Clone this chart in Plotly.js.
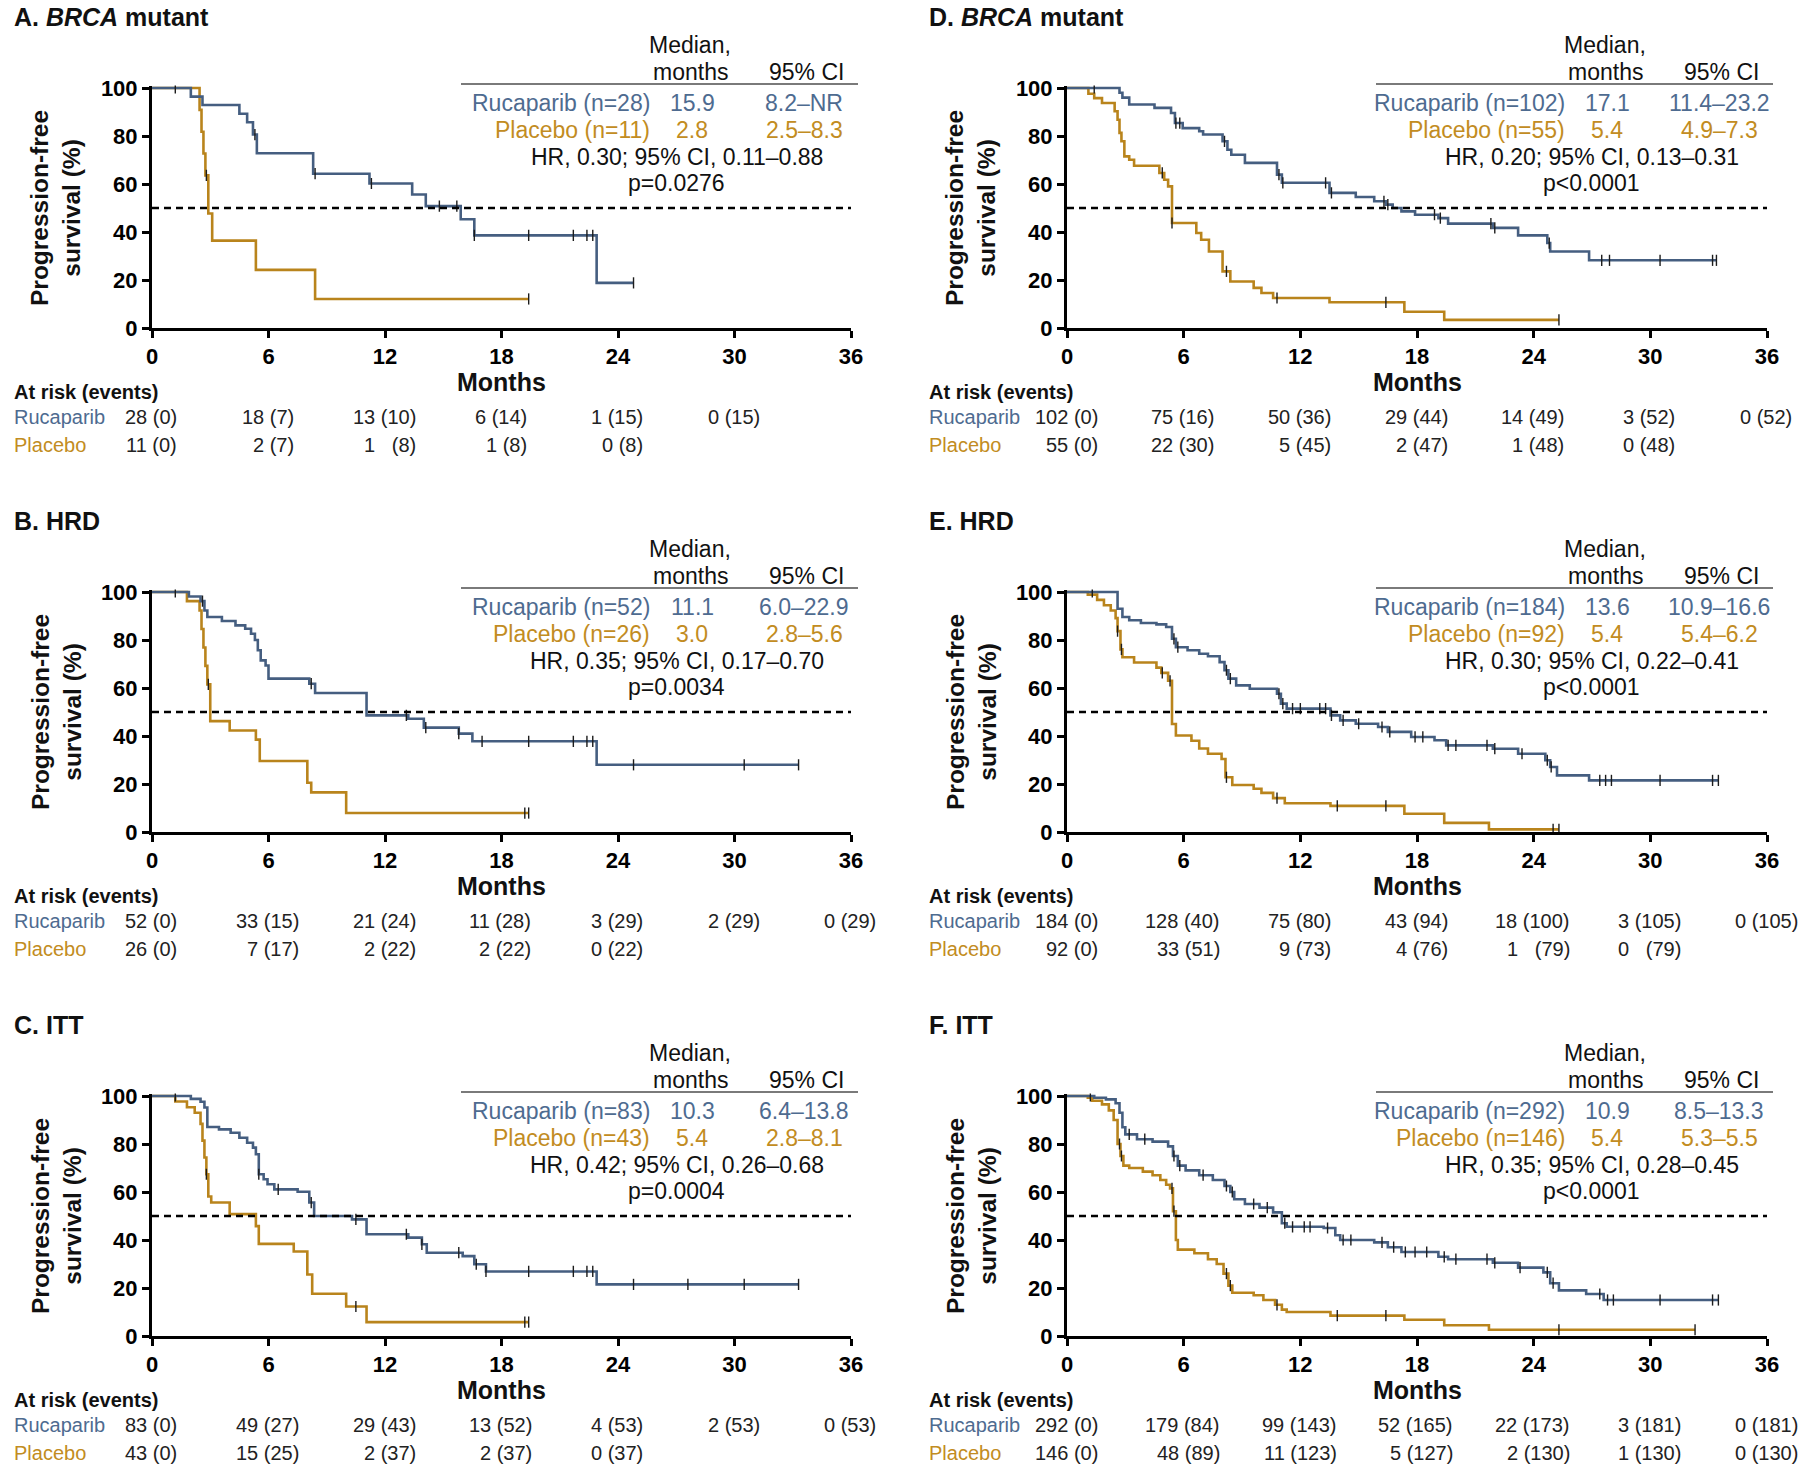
<!DOCTYPE html>
<html><head><meta charset="utf-8">
<script src="https://cdn.plot.ly/plotly-3.0.1.min.js"></script>
<style>html,body{margin:0;padding:0;background:#fff}#chart{width:1800px;height:1467px}</style>
</head><body><div id="chart"></div>
<script>
// ---------- DATA ----------
const monthTicks = [0, 6, 12, 18, 24, 30, 36];
const pctTicks = [0, 20, 40, 60, 80, 100];

// Panel A: BRCA mutant
const A_rucT = [0, 2.0, 2.6, 4.5, 4.9, 5.2, 5.4, 8.3, 11.2, 13.4, 14.1, 15.9, 16.6, 22.9, 24.8];
const A_rucS = [100, 96.4, 92.9, 89.3, 85.7, 80.6, 72.8, 64.3, 60.2, 55.6, 50.8, 45.3, 38.6, 18.8, 18.8];
const A_rucC = [1.2, 5.3, 8.4, 11.3, 14.8, 15.7, 16.6, 19.4, 21.7, 22.4, 22.7, 24.8];
const A_plaT = [0, 2.45, 2.55, 2.65, 2.75, 2.9, 3.1, 5.35, 8.4, 19.4];
const A_plaS = [100, 90.9, 81.8, 72.7, 63.6, 47.7, 36.4, 24.2, 12.1, 12.1];
const A_plaC = [2.8, 19.4];

// Panel B: HRD
const B_rucT = [0, 1.9, 2.5, 2.7, 2.85, 3.6, 4.3, 4.8, 5.1, 5.3, 5.45, 5.6, 5.85, 6.0, 8.1, 8.4, 11.05, 13.2, 14.0, 15.8, 16.5, 22.9, 33.3];
const B_rucS = [100, 98.1, 96.2, 92.3, 89.6, 87.9, 86.1, 84.7, 82.6, 80, 75.7, 71.5, 69.4, 63.9, 61.8, 57.9, 48.6, 47.2, 43.5, 41, 37.8, 28, 28];
const B_rucC = [1.2, 2.6, 8.2, 13.1, 14.1, 15.8, 17.0, 19.4, 21.7, 22.4, 22.7, 24.8, 30.5, 33.3];
const B_plaT = [0, 1.8, 2.45, 2.55, 2.65, 2.75, 2.85, 3.0, 4.0, 5.35, 5.55, 8.0, 8.2, 10.0, 19.4];
const B_plaS = [100, 96.2, 92.3, 84.6, 76.9, 69.2, 61.5, 46.2, 42.3, 38.5, 29.6, 20.5, 16.5, 7.9, 7.9];
const B_plaC = [2.9, 19.2, 19.4];

// Panel C: ITT
const C_rucT = [0, 2.0, 2.5, 2.7, 2.85, 3.45, 4.05, 4.5, 4.9, 5.2, 5.35, 5.5, 5.75, 5.95, 6.3, 7.5, 8.1, 8.35, 10.3, 11.05, 13.2, 13.9, 14.15, 16.0, 16.6, 17.2, 22.9, 33.3];
const C_rucS = [100, 98.8, 97.6, 95.2, 87.1, 86.1, 84.7, 82.6, 80.5, 78.5, 75.7, 67.4, 65.3, 63.2, 61.1, 60.1, 55.6, 50, 48.6, 42.4, 41, 38.2, 34.7, 33.3, 29.9, 26.9, 21.5, 21.5];
const C_rucC = [1.2, 5.5, 6.5, 8.2, 10.5, 13.1, 13.9, 15.8, 16.7, 17.2, 19.4, 21.7, 22.4, 22.7, 24.8, 27.6, 30.5, 33.3];
const C_plaT = [0, 1.2, 1.8, 2.2, 2.5, 2.6, 2.7, 2.8, 2.9, 3.05, 4.0, 5.35, 5.5, 7.3, 8.0, 8.25, 10.0, 11.05, 19.4];
const C_plaS = [100, 97.7, 95.3, 93, 88.4, 81.4, 74.4, 67.4, 58.1, 55.6, 50.8, 45.8, 38.4, 35.2, 25.6, 17.6, 12.3, 5.8, 5.8];
const C_plaC = [2.8, 10.5, 19.2, 19.4];

// Panel D: BRCA mutant (second column)
const D_rucT = [0, 2.7, 2.85, 3.2, 4.5, 5.35, 5.55, 5.95, 6.8, 7.0, 8.0, 8.25, 8.45, 9.15, 10.8, 11.05, 13.5, 14.85, 15.8, 16.4, 16.75, 17.2, 17.9, 19.1, 19.6, 21.9, 23.2, 24.7, 24.85, 26.85, 33.4];
const D_rucS = [100, 98, 96, 93.1, 91.7, 89.6, 85.4, 83.3, 82, 80.6, 77.8, 74.3, 72.2, 68.8, 63.9, 60.5, 56.3, 54.6, 52.8, 51.4, 50, 48.6, 47.2, 45.8, 43.5, 41.7, 38.6, 35.4, 31.9, 28.2, 28.2];
const D_rucC = [1.4, 5.6, 5.8, 8.1, 10.9, 11.1, 13.3, 13.6, 16.3, 16.5, 18.9, 19.2, 21.8, 22.0, 24.8, 27.5, 27.9, 30.5, 33.2, 33.4];
const D_plaT = [0, 1.1, 1.4, 1.8, 2.45, 2.6, 2.7, 2.8, 2.95, 3.2, 3.45, 4.75, 5.0, 5.2, 5.4, 6.65, 6.9, 7.3, 8.0, 8.4, 9.6, 10.0, 10.6, 13.5, 17.35, 19.4, 25.3];
const D_plaS = [100, 97.6, 95.8, 93.75, 90.3, 86.8, 81.3, 77.8, 71.5, 70.1, 67.6, 64.6, 61.8, 59, 43.75, 39.6, 36.8, 31.9, 23.6, 19.4, 16.7, 14.6, 12.5, 10.7, 6.8, 3.4, 3.4];
const D_plaC = [4.9, 5.4, 8.2, 10.8, 16.4, 25.3];

// Panel E: HRD (second column)
const E_rucT = [0, 2.6, 2.85, 3.2, 3.8, 4.6, 5.1, 5.4, 5.6, 6.2, 6.8, 7.25, 7.85, 8.1, 8.3, 8.7, 9.4, 10.8, 11.0, 11.3, 13.55, 14.05, 14.85, 16.0, 16.5, 17.7, 18.9, 19.5, 21.9, 23.2, 24.6, 24.85, 25.2, 26.85, 33.5];
const E_rucS = [100, 93, 89.6, 88.2, 87.1, 86.5, 85.4, 80.5, 77, 75.7, 74.3, 73.2, 70.8, 67.4, 63.9, 61.1, 59.7, 57.6, 53.5, 51.4, 48.6, 46.5, 45.1, 43.75, 41.7, 39.6, 38.2, 36.1, 34.7, 32.6, 29.9, 27.1, 23.6, 21.5, 21.5];
const E_rucC = [1.3, 5.5, 5.7, 8.2, 8.4, 10.9, 11.1, 11.6, 12.0, 13.0, 13.3, 13.6, 14.2, 15.0, 16.2, 16.6, 17.9, 18.3, 19.6, 20.0, 21.6, 22.0, 23.4, 24.7, 24.9, 27.4, 27.7, 28.0, 30.5, 33.2, 33.5];
const E_plaT = [0, 1.07, 1.55, 1.9, 2.25, 2.5, 2.6, 2.75, 2.85, 3.45, 4.6, 4.85, 5.2, 5.4, 5.6, 6.4, 6.8, 7.25, 7.95, 8.15, 8.5, 9.6, 10.0, 10.6, 11.2, 13.55, 17.35, 19.4, 21.7, 25.3];
const E_plaS = [100, 98.9, 96.7, 94.5, 92.3, 89.1, 83.7, 76.1, 72.8, 70.6, 68.5, 66.3, 63, 45, 40.2, 38, 34.8, 32.6, 30.4, 22.8, 19.6, 18, 16.3, 14.1, 12, 10.9, 7.6, 3.8, 1.1, 1.1];
const E_plaC = [2.6, 2.8, 4.9, 5.3, 8.2, 10.8, 13.9, 16.4, 25.0, 25.3];

// Panel F: ITT (second column)
const F_rucT = [0, 1.4, 2.0, 2.5, 2.7, 2.85, 3.0, 3.6, 4.4, 5.2, 5.45, 5.7, 6.1, 6.8, 7.5, 8.1, 8.4, 8.6, 9.15, 9.9, 10.6, 11.05, 11.3, 13.2, 13.8, 14.05, 15.8, 16.5, 17.2, 19.1, 19.6, 21.9, 23.2, 24.5, 24.85, 25.3, 26.7, 27.6, 33.5];
const F_rucS = [100, 99.3, 98.6, 97, 93, 87, 84, 82, 81, 79, 75, 71, 69, 67, 65, 62.5, 60, 57, 55, 53.5, 51.5, 47, 45.5, 45, 42, 40, 39, 37, 35, 33, 32, 30.5, 28.5, 26.5, 22, 19, 17.5, 15, 15];
const F_rucC = [1.2, 3.2, 4.0, 5.5, 5.8, 7.0, 8.2, 8.5, 9.6, 10.3, 11.2, 11.6, 12.2, 12.5, 13.4, 14.2, 14.6, 16.2, 16.8, 17.4, 17.9, 18.5, 19.4, 20.0, 21.6, 22.0, 23.3, 24.7, 25.0, 27.4, 27.8, 28.1, 30.5, 33.2, 33.5];
const F_plaT = [0, 1.07, 1.3, 1.8, 2.15, 2.4, 2.6, 2.75, 2.9, 3.2, 3.9, 4.4, 4.8, 5.1, 5.3, 5.45, 5.6, 5.7, 6.55, 7.25, 7.7, 8.05, 8.3, 8.5, 9.6, 10.1, 10.7, 11.05, 11.3, 13.55, 17.35, 19.4, 21.7, 32.3];
const F_plaS = [100, 99.3, 98, 96.5, 94, 90, 80, 75, 71, 70, 68.5, 67, 65, 63, 61.5, 52, 40, 36, 34.5, 32, 30, 26, 21, 18, 17, 15, 13, 11, 10, 8.5, 6.8, 4.5, 2.6, 2.6];
const F_plaC = [2.7, 2.8, 5.4, 5.5, 8.2, 8.4, 10.8, 13.9, 16.4, 25.3, 32.3];

// Panel texts
const titles = ['A. <i>BRCA</i> mutant', 'B. HRD', 'C. ITT', 'D. <i>BRCA</i> mutant', 'E. HRD', 'F. ITT'];
const rucLabels = ['Rucaparib (n=28)', 'Rucaparib (n=52)', 'Rucaparib (n=83)', 'Rucaparib (n=102)', 'Rucaparib (n=184)', 'Rucaparib (n=292)'];
const plaLabels = ['Placebo (n=11)', 'Placebo (n=26)', 'Placebo (n=43)', 'Placebo (n=55)', 'Placebo (n=92)', 'Placebo (n=146)'];
const rucMedian = ['15.9', '11.1', '10.3', '17.1', '13.6', '10.9'];
const plaMedian = ['2.8', '3.0', '5.4', '5.4', '5.4', '5.4'];
const rucCI = ['8.2–NR', '6.0–22.9', '6.4–13.8', '11.4–23.2', '10.9–16.6', '8.5–13.3'];
const plaCI = ['2.5–8.3', '2.8–5.6', '2.8–8.1', '4.9–7.3', '5.4–6.2', '5.3–5.5'];
const hrText = ['HR, 0.30; 95% CI, 0.11–0.88', 'HR, 0.35; 95% CI, 0.17–0.70', 'HR, 0.42; 95% CI, 0.26–0.68',
                'HR, 0.20; 95% CI, 0.13–0.31', 'HR, 0.30; 95% CI, 0.22–0.41', 'HR, 0.35; 95% CI, 0.28–0.45'];
const pText = ['p=0.0276', 'p=0.0034', 'p=0.0004', 'p<0.0001', 'p<0.0001', 'p<0.0001'];

// At risk (events)
const A_riskRuc = ['28 (0)', '18 (7)', '13 (10)', '6 (14)', '1 (15)', '0 (15)'];
const A_riskPla = ['11 (0)', '2 (7)', '1   (8)', '1 (8)', '0 (8)'];
const B_riskRuc = ['52 (0)', '33 (15)', '21 (24)', '11 (28)', '3 (29)', '2 (29)', '0 (29)'];
const B_riskPla = ['26 (0)', '7 (17)', '2 (22)', '2 (22)', '0 (22)'];
const C_riskRuc = ['83 (0)', '49 (27)', '29 (43)', '13 (52)', '4 (53)', '2 (53)', '0 (53)'];
const C_riskPla = ['43 (0)', '15 (25)', '2 (37)', '2 (37)', '0 (37)'];
const D_riskRuc = ['102 (0)', '75 (16)', '50 (36)', '29 (44)', '14 (49)', '3 (52)', '0 (52)'];
const D_riskPla = ['55 (0)', '22 (30)', '5 (45)', '2 (47)', '1 (48)', '0 (48)'];
const E_riskRuc = ['184 (0)', '128 (40)', '75 (80)', '43 (94)', '18 (100)', '3 (105)', '0 (105)'];
const E_riskPla = ['92 (0)', '33 (51)', '9 (73)', '4 (76)', '1   (79)', '0   (79)'];
const F_riskRuc = ['292 (0)', '179 (84)', '99 (143)', '52 (165)', '22 (173)', '3 (181)', '0 (181)'];
const F_riskPla = ['146 (0)', '48 (89)', '11 (123)', '5 (127)', '2 (130)', '1 (130)', '0 (130)'];

// ---------- STYLE / LAYOUT ----------
const W = 1800, H = 1467;
const BLUE = '#4e6b90', GOLD = '#c28c22', INK = '#111111', CENS = '#1c1c1c';
const LINE_BLUE = '#455e80', LINE_GOLD = '#b9841c';
const FONT = '"Liberation Sans", Arial, sans-serif';
const colX0 = [152, 1067], colX36 = [851, 1767];
const rowY100 = [88, 592, 1096], plotH = 240;
const TAB = 23, RISK = 20;

const series = [
  {rT: A_rucT, rS: A_rucS, rC: A_rucC, pT: A_plaT, pS: A_plaS, pC: A_plaC, rr: A_riskRuc, rp: A_riskPla},
  {rT: B_rucT, rS: B_rucS, rC: B_rucC, pT: B_plaT, pS: B_plaS, pC: B_plaC, rr: B_riskRuc, rp: B_riskPla},
  {rT: C_rucT, rS: C_rucS, rC: C_rucC, pT: C_plaT, pS: C_plaS, pC: C_plaC, rr: C_riskRuc, rp: C_riskPla},
  {rT: D_rucT, rS: D_rucS, rC: D_rucC, pT: D_plaT, pS: D_plaS, pC: D_plaC, rr: D_riskRuc, rp: D_riskPla},
  {rT: E_rucT, rS: E_rucS, rC: E_rucC, pT: E_plaT, pS: E_plaS, pC: E_plaC, rr: E_riskRuc, rp: E_riskPla},
  {rT: F_rucT, rS: F_rucS, rC: F_rucC, pT: F_plaT, pS: F_plaS, pC: F_plaC, rr: F_riskRuc, rp: F_riskPla}
];

function stepAt(T, S, x) { let v = S[0]; for (let i = 0; i < T.length; i++) { if (T[i] <= x) v = S[i]; } return v; }
const canvas = document.createElement('canvas'); const ctx = canvas.getContext('2d');
function textW(str, size) { ctx.font = size + 'px "Liberation Sans", Arial, sans-serif'; return ctx.measureText(str).width; }
const nb = s => s.replace(/ /g, '\u00a0');
const PX = x => x / W, PY = y => 1 - y / H;

const traces = [], annotations = [], shapes = [];
const layout = {width: W, height: H, margin: {l: 0, r: 0, t: 0, b: 0}, paper_bgcolor: '#fff', plot_bgcolor: 'rgba(0,0,0,0)', showlegend: false};

function ann(text, x, y, opts) {
  annotations.push(Object.assign({text: text, x: PX(x), y: PY(y), xref: 'paper', yref: 'paper', showarrow: false,
    xanchor: 'center', yanchor: 'middle', borderpad: 0, font: {family: FONT, size: TAB, color: INK}}, opts || {}));
}

series.forEach((d, i) => {
  const col = i < 3 ? 0 : 1, row = i % 3;
  const x0 = colX0[col], x36 = colX36[col], y100 = rowY100[row], y0 = y100 + plotH;
  const n = i + 1, xa = 'x' + (n === 1 ? '' : n), ya = 'y' + (n === 1 ? '' : n);
  const yTop = y100 - plotH * 0.01; // range top = 101
  const axisCommon = {ticks: 'outside', ticklen: 7, tickwidth: 3, tickcolor: '#000', showline: true, linewidth: 3, linecolor: '#000',
    showgrid: false, zeroline: false, fixedrange: true, tickfont: {family: FONT, size: 22, color: '#000', weight: 'bold'}};
  layout['xaxis' + (n === 1 ? '' : n)] = Object.assign({domain: [x0 / W, x36 / W], anchor: ya, range: [0, 36], tickvals: monthTicks}, axisCommon);
  layout['yaxis' + (n === 1 ? '' : n)] = Object.assign({domain: [1 - y0 / H, 1 - yTop / H], anchor: xa, range: [0, 101], tickvals: pctTicks}, axisCommon);

  // median reference line
  shapes.push({type: 'line', xref: xa, yref: ya, x0: 0, x1: 36, y0: 50, y1: 50, line: {color: '#000', width: 2.5, dash: '7px,5px'}});

  traces.push({type: 'scatter', mode: 'lines', x: d.pT, y: d.pS, xaxis: xa, yaxis: ya, line: {shape: 'hv', color: LINE_GOLD, width: 2.6}, hoverinfo: 'skip'});
  traces.push({type: 'scatter', mode: 'lines', x: d.rT, y: d.rS, xaxis: xa, yaxis: ya, line: {shape: 'hv', color: LINE_BLUE, width: 2.6}, hoverinfo: 'skip'});
  traces.push({type: 'scatter', mode: 'markers', x: d.pC, y: d.pC.map(t => stepAt(d.pT, d.pS, t)), xaxis: xa, yaxis: ya,
    marker: {symbol: 'line-ns', size: 8, line: {width: 1.4, color: CENS}}, hoverinfo: 'skip'});
  traces.push({type: 'scatter', mode: 'markers', x: d.rC, y: d.rC.map(t => stepAt(d.rT, d.rS, t)), xaxis: xa, yaxis: ya,
    marker: {symbol: 'line-ns', size: 8, line: {width: 1.4, color: CENS}}, hoverinfo: 'skip'});

  // title
  ann(titles[i], x0 - 139, y100 - 71, {xanchor: 'left', font: {family: FONT, size: 25, color: INK, weight: 'bold'}});
  // y axis title
  ann('Progression-free<br>survival (%)', x0 - 96, y100 + plotH / 2, {textangle: -90, font: {family: FONT, size: 24.5, color: INK, weight: 'bold'}});
  // table
  ann('Median,', x0 + 538, y100 - 43);
  ann('months', x0 + 538, y100 - 16);
  ann('95% CI', x0 + 654, y100 - 16);
  shapes.push({type: 'line', xref: 'paper', yref: 'paper', x0: PX(x0 + 309), x1: PX(x0 + 706), y0: PY(y100 - 4), y1: PY(y100 - 4), line: {color: '#7a7a7a', width: 2}});
  ann(rucLabels[i], x0 + 499, y100 + 15, {xanchor: 'right', font: {family: FONT, size: TAB, color: BLUE}});
  ann(rucMedian[i], x0 + 540, y100 + 15, {font: {family: FONT, size: TAB, color: BLUE}});
  ann(rucCI[i], x0 + 652, y100 + 15, {font: {family: FONT, size: TAB, color: BLUE}});
  ann(plaLabels[i], x0 + 499, y100 + 42, {xanchor: 'right', font: {family: FONT, size: TAB, color: GOLD}});
  ann(plaMedian[i], x0 + 540, y100 + 42, {font: {family: FONT, size: TAB, color: GOLD}});
  ann(plaCI[i], x0 + 652, y100 + 42, {font: {family: FONT, size: TAB, color: GOLD}});
  ann(hrText[i], x0 + 525, y100 + 69);
  ann(pText[i], x0 + 524, y100 + 95);
  // x axis title
  ann('Months', (x0 + x36) / 2, y100 + 294, {font: {family: FONT, size: 25, color: INK, weight: 'bold'}});
  // at-risk table
  ann('At risk (events)', x0 - 139, y100 + 304, {xanchor: 'left', font: {family: FONT, size: 20, color: INK, weight: 'bold'}});
  ann('Rucaparib', x0 - 139, y100 + 329, {xanchor: 'left', font: {family: FONT, size: RISK, color: BLUE}});
  ann('Placebo', x0 - 139, y100 + 357, {xanchor: 'left', font: {family: FONT, size: RISK, color: GOLD}});
  d.rr.forEach((s, j) => {
    const tick = x0 + (x36 - x0) * monthTicks[j] / 36;
    const right = tick + textW(s, RISK) / 2;
    ann(nb(s), right, y100 + 329, {xanchor: 'right', font: {family: FONT, size: RISK, color: '#222'}});
    if (j < d.rp.length) ann(nb(d.rp[j]), right, y100 + 357, {xanchor: 'right', font: {family: FONT, size: RISK, color: '#222'}});
  });
});

layout.annotations = annotations;
layout.shapes = shapes;
Plotly.newPlot('chart', traces, layout, {staticPlot: true, displayModeBar: false});
</script></body></html>
